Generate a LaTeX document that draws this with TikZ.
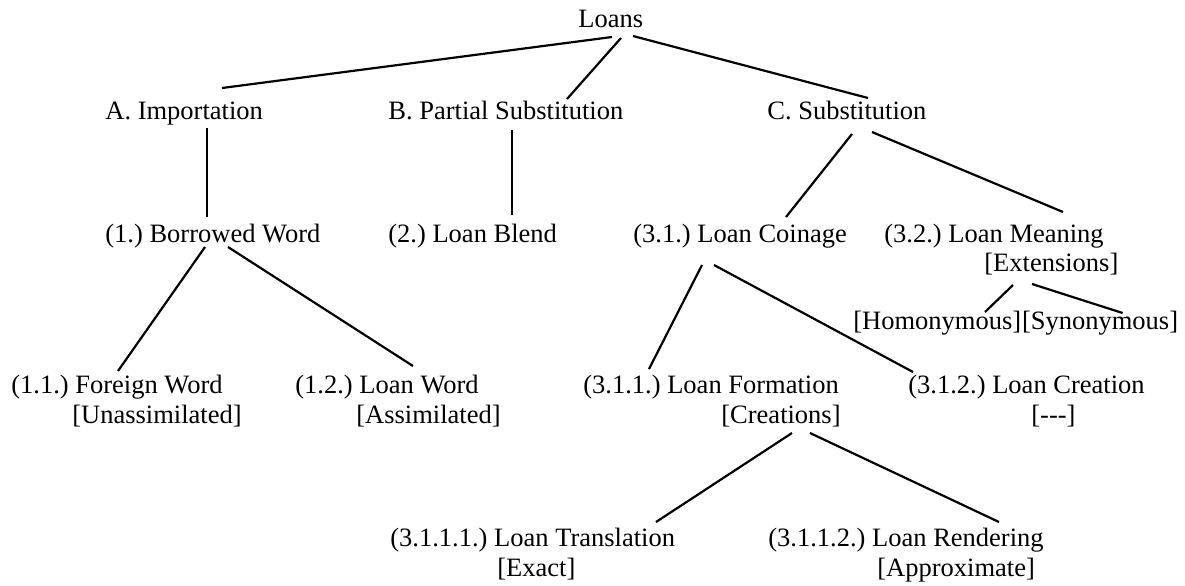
\documentclass[tikz,border=0pt]{standalone}
\usepackage{fontspec}
\setmainfont{Liberation Serif}
\usepackage{tikz}
\usetikzlibrary{positioning}
\frenchspacing
\newcommand{\termsize}{\fontsize{13.25}{16}\selectfont}
\tikzset{
    term/.style={anchor=base west, inner sep=0pt, font=\termsize},
    note/.style={term},
    branch/.style={line width=1.1pt, line cap=butt}
}
\begin{document}
\begin{tikzpicture}[x=0.5pt, y=-0.5pt]
    \useasboundingbox (0,0) rectangle (1185,585);

    % levels 0 to 2
    \path
        (578,27) node[term] (loans) {Loans}
        (105,119) node[term] (imp) {A. Importation}
        (388,119) node[term] (partial) {B. Partial Substitution}
        (767,119) node[term] (subst) {C. Substitution}
        (105,242) node[term] (borrowed) {(1.) Borrowed Word}
        (388,242) node[term] (blend) {(2.) Loan Blend}
        (633,242) node[term] (coinage) {(3.1.) Loan Coinage}
        (884,242) node[term] (meaning) {(3.2.) Loan Meaning}
        (984,271) node[note] (extensions) {[Extensions]};

    % levels 3 and 4
    \path
        (853,329) node[note] (homonym) {[Homonymous]}
        node[note, right=0pt of homonym] (synonym) {[Synonymous]}
        (11,393) node[term] (foreign) {(1.1.) Foreign Word}
        (72,423) node[note] (unassim) {[Unassimilated]}
        (295,393) node[term] (loanword) {(1.2.) Loan Word}
        (356,423) node[note] (assim) {[Assimilated]}
        (583,393) node[term] (formation) {(3.1.1.) Loan Formation}
        (721,423) node[note] (creations) {[Creations]}
        (908,393) node[term] (creation) {(3.1.2.) Loan Creation}
        (1031,423) node[note] (nothing) {[-{}-{}-]}
        (390,546) node[term] (translation) {(3.1.1.1.) Loan Translation}
        (497,576) node[note] (exact) {[Exact]}
        (768,546) node[term] (rendering) {(3.1.1.2.) Loan Rendering}
        (877,576) node[note] (approx) {[Approximate]};

    \draw[branch] ([shift={(34,10)}]loans.base west) -- ([shift={(117,-31)}]imp.base west);
    \draw[branch] ([shift={(43,11)}]loans.base west) -- ([shift={(179,-20)}]partial.base west);
    \draw[branch] ([shift={(55,9)}]loans.base west) -- ([shift={(101,-21)}]subst.base west);

    \draw[branch] ([shift={(102,9)}]imp.base west) -- ([shift={(102,-25)}]borrowed.base west);
    \draw[branch] ([shift={(124,11)}]partial.base west) -- ([shift={(124,-27)}]blend.base west);
    \draw[branch] ([shift={(85,15)}]subst.base west) -- ([shift={(153,-25)}]coinage.base west);
    \draw[branch] ([shift={(105,13)}]subst.base west) -- ([shift={(179,-30)}]meaning.base west);

    \draw[branch] ([shift={(100,5)}]borrowed.base west) -- ([shift={(107,-22)}]foreign.base west);
    \draw[branch] ([shift={(123,5)}]borrowed.base west) -- ([shift={(118,-27)}]loanword.base west);
    \draw[branch] ([shift={(69,23)}]coinage.base west) -- ([shift={(66,-24)}]formation.base west);
    \draw[branch] ([shift={(81,23)}]coinage.base west) -- ([shift={(5,-21)}]creation.base west);
    \draw[branch] ([shift={(29,14)}]extensions.base west) -- ([shift={(132,-17)}]homonym.base west);
    \draw[branch] ([shift={(48,13)}]extensions.base west) -- ([shift={(101,-16)}]synonym.base west);

    \draw[branch] ([shift={(71,10)}]creations.base west) -- ([shift={(266,-24)}]translation.base west);
    \draw[branch] ([shift={(89,10)}]creations.base west) -- ([shift={(231,-24)}]rendering.base west);
\end{tikzpicture}
\end{document}
